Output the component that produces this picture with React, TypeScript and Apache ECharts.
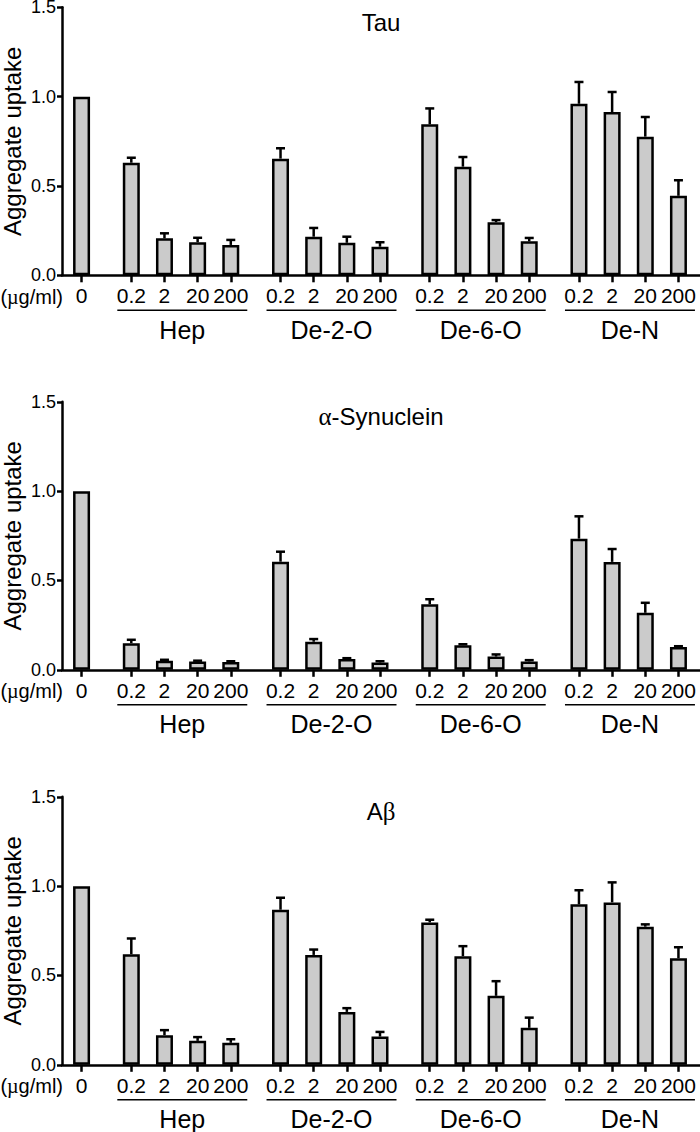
import React, { useEffect, useRef } from "react";
import * as echarts from "echarts";

// ---- data ----
const controlLabel = "0";
const doses = ["0.2", "2", "20", "200"];
const groups = ["Hep", "De-2-O", "De-6-O", "De-N"];
const panelTitles = ["Tau", "{g|α}-Synuclein", "A{g|β}"];
const yAxisTitle = "Aggregate uptake";

// order: control, Hep x4, De-2-O x4, De-6-O x4, De-N x4
const tauMeans = [1.0, 0.63, 0.207, 0.185, 0.17, 0.653, 0.216, 0.182, 0.16, 0.845, 0.608, 0.297, 0.19, 0.96, 0.914, 0.776, 0.445];
const tauErrors = [0, 0.028, 0.028, 0.025, 0.028, 0.058, 0.049, 0.034, 0.025, 0.089, 0.054, 0.012, 0.019, 0.122, 0.112, 0.11, 0.087];

const synMeans = [1.0, 0.149, 0.05, 0.047, 0.043, 0.605, 0.157, 0.06, 0.041, 0.367, 0.138, 0.074, 0.047, 0.734, 0.604, 0.319, 0.127];
const synErrors = [0, 0.019, 0.006, 0.004, 0.005, 0.056, 0.015, 0.005, 0.007, 0.028, 0.005, 0.012, 0.007, 0.125, 0.072, 0.056, 0.005];

const abMeans = [1.0, 0.619, 0.166, 0.134, 0.123, 0.868, 0.615, 0.296, 0.158, 0.797, 0.608, 0.386, 0.207, 0.898, 0.909, 0.773, 0.596];
const abErrors = [0, 0.088, 0.028, 0.021, 0.02, 0.067, 0.03, 0.021, 0.026, 0.015, 0.056, 0.082, 0.057, 0.079, 0.112, 0.013, 0.062];

const yTicks = [0, 0.5, 1.0, 1.5];

// ---- layout helpers ----
const FONT = "'Liberation Sans', Arial, Helvetica, sans-serif";
const SERIF = "'Liberation Serif', 'DejaVu Serif', serif";
const GROUP_GAP = 0.5;
const ctrlStep = 1.5;
const groupStart = (g: number) => ctrlStep + g * (doses.length + GROUP_GAP);
const positions: number[] = [0];
const labels: string[] = [controlLabel];
groups.forEach((_, g) => {
  doses.forEach((d, j) => {
    positions.push(groupStart(g) + j);
    labels.push(d);
  });
});

const PANEL_TOPS = [7.3, 401.8, 796.8];
const PANEL_H = 268;
const GRID_LEFT = 62;

const panels = [
  { means: tauMeans, errors: tauErrors },
  { means: synMeans, errors: synErrors },
  { means: abMeans, errors: abErrors },
];

function buildOption() {
  const grid: any[] = [];
  const xAxis: any[] = [];
  const yAxis: any[] = [];
  const series: any[] = [];
  const graphic: any[] = [];

  panels.forEach((p, i) => {
    grid.push({
      left: GRID_LEFT,
      right: 0,
      top: PANEL_TOPS[i],
      height: PANEL_H,
      containLabel: false,
      outerBoundsMode: "none",
    });
    xAxis.push({
      type: "value",
      gridIndex: i,
      min: -0.59,
      max: 18.65,
      splitLine: { show: false },
      axisLine: { show: true, onZero: false, lineStyle: { color: "#000", width: 2.5 } },
      axisTick: { show: true, customValues: positions, length: 7, lineStyle: { color: "#000", width: 2.5 } },
      axisLabel: {
        show: true,
        customValues: positions,
        margin: 10,
        fontSize: 21,
        fontFamily: FONT,
        color: "#000",
        formatter: (v: number) => {
          const k = positions.findIndex((q) => Math.abs(q - v) < 1e-6);
          return k >= 0 ? labels[k] : "";
        },
      },
    });
    yAxis.push({
      type: "value",
      gridIndex: i,
      min: yTicks[0],
      max: yTicks[yTicks.length - 1],
      interval: 0.5,
      splitLine: { show: false },
      axisLine: { show: true, onZero: false, lineStyle: { color: "#000", width: 2.5 } },
      axisTick: { show: true, length: 5, lineStyle: { color: "#000", width: 2.5 } },
      axisLabel: {
        margin: 6,
        fontSize: 18,
        fontFamily: FONT,
        color: "#000",
        formatter: (v: number) => v.toFixed(1),
      },
    });

    series.push({
      type: "bar",
      xAxisIndex: i,
      yAxisIndex: i,
      barWidth: 17,
      data: p.means.map((m, k) => [positions[k], m]),
      itemStyle: { color: "#cbcbcb", borderColor: "#000", borderWidth: 2.5 },
      z: 2,
    });

    series.push({
      type: "custom",
      xAxisIndex: i,
      yAxisIndex: i,
      z: 3,
      data: p.means
        .map((m, k) => [positions[k], m, p.errors[k]])
        .filter((d) => d[2] > 0),
      encode: { x: 0, y: 1 },
      renderItem: (params: any, api: any) => {
        const x = api.value(0);
        const v = api.value(1);
        const e = api.value(2);
        const base = api.coord([x, v]);
        const top = api.coord([x, v + e]);
        return {
          type: "group",
          children: [
            { type: "line", shape: { x1: base[0], y1: base[1], x2: top[0], y2: top[1] }, style: { stroke: "#000", lineWidth: 2.5 } },
            { type: "line", shape: { x1: top[0] - 4.5, y1: top[1], x2: top[0] + 4.5, y2: top[1] }, style: { stroke: "#000", lineWidth: 2.5 } },
          ],
        };
      },
    });

    // group underlines & names
    series.push({
      type: "custom",
      xAxisIndex: i,
      yAxisIndex: i,
      z: 3,
      clip: false,
      data: groups.map((_, g) => [groupStart(g), groupStart(g) + doses.length - 1, 0]),
      encode: { x: [0, 1], y: 2 },
      renderItem: (params: any, api: any) => {
        const s = api.coord([api.value(0), 0]);
        const e = api.coord([api.value(1), 0]);
        const children: any[] = [
          { type: "line", shape: { x1: s[0] - 14, y1: s[1] + 35, x2: e[0] + 16.5, y2: s[1] + 35 }, style: { stroke: "#000", lineWidth: 1.5 } },
          {
            type: "text",
            x: (s[0] - 14 + e[0] + 16.5) / 2,
            y: s[1] + 54.5,
            style: { text: groups[params.dataIndex], fontSize: 25, fontFamily: FONT, fill: "#000", align: "center", verticalAlign: "middle" },
          },
        ];
        if (params.dataIndex === 0) {
          children.push({
            type: "text",
            x: params.coordSys.x + 1,
            y: s[1] + 21.5,
            style: {
              text: "({m|µ}g/ml)",
              fontSize: 20,
              fontFamily: FONT,
              fill: "#000",
              align: "right",
              verticalAlign: "middle",
              rich: { m: { fontSize: 20, fontFamily: SERIF, fill: "#000" } },
            },
          });
          // y-axis title, centred on the plot height
          children.push({
            type: "text",
            x: params.coordSys.x - 50,
            y: params.coordSys.y + params.coordSys.height / 2,
            rotation: Math.PI / 2,
            style: {
              text: yAxisTitle,
              fontSize: 24,
              fontFamily: FONT,
              fill: "#000",
              align: "center",
              verticalAlign: "middle",
            },
          });
        }
        return { type: "group", children };
      },
    });

    graphic.push({
      type: "text",
      x: 381,
      y: PANEL_TOPS[i] + 15,
      style: {
        text: panelTitles[i],
        fontSize: 24,
        fontFamily: FONT,
        fill: "#000",
        align: "center",
        verticalAlign: "middle",
        rich: { g: { fontSize: 25, fontFamily: SERIF, fill: "#000" } },
      },
    });
  });

  return { animation: false, backgroundColor: "#fff", grid, xAxis, yAxis, series, graphic };
}

export default function App() {
  const ref = useRef<HTMLDivElement>(null);
  useEffect(() => {
    document.body.style.margin = "0";
    const chart = echarts.init(ref.current!, null, { renderer: "svg" });
    chart.setOption(buildOption());
    return () => chart.dispose();
  }, []);
  return <div ref={ref} style={{ width: 700, height: 1132 }} />;
}
